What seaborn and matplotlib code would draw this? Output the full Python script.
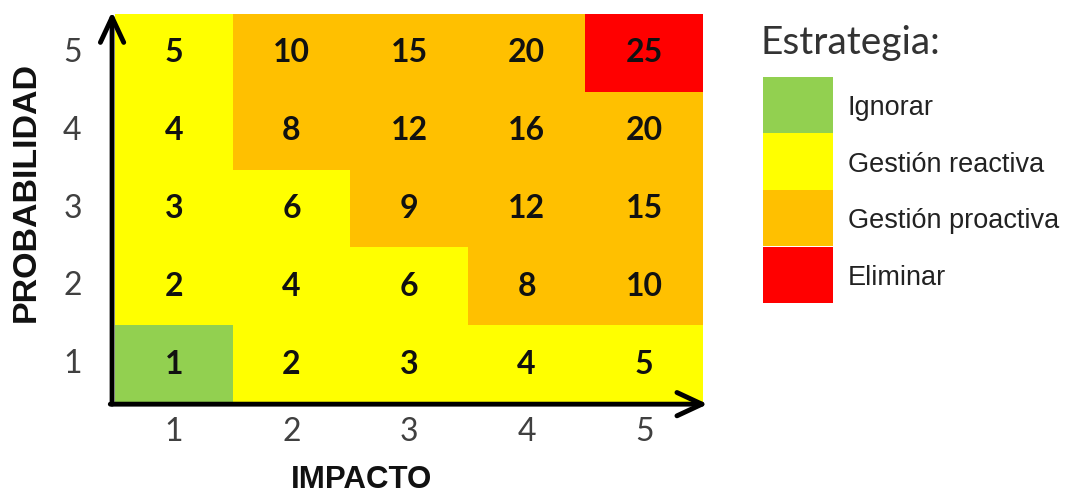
import numpy as np
import pandas as pd
import seaborn as sns
import matplotlib
matplotlib.use("Agg")
import matplotlib.pyplot as plt
from matplotlib.colors import ListedColormap, BoundaryNorm
from matplotlib.patches import Rectangle

# Risk matrix: rows = probability (5 at top), columns = impact
impacto = [1, 2, 3, 4, 5]
probabilidad = [5, 4, 3, 2, 1]

# Risk score for each cell (probability x impact)
riesgo = [
    [5, 10, 15, 20, 25],
    [4, 8, 12, 16, 20],
    [3, 6, 9, 12, 15],
    [2, 4, 6, 8, 10],
    [1, 2, 3, 4, 5],
]

# Strategy level per cell: 0 Ignorar, 1 reactiva, 2 proactiva, 3 Eliminar
nivel = [
    [1, 2, 2, 2, 3],
    [1, 2, 2, 2, 2],
    [1, 1, 2, 2, 2],
    [1, 1, 1, 2, 2],
    [0, 1, 1, 1, 1],
]

estrategias = ["Ignorar", "Gestión reactiva", "Gestión proactiva", "Eliminar"]
colores = ["#92D050", "#FFFF00", "#FFC000", "#FF0000"]

sns.set_theme(style="white")
plt.rcParams["font.family"] = ["Lato", "DejaVu Sans"]

fig = plt.figure(figsize=(10.70, 4.95), dpi=100)
ax = fig.add_axes([115 / 1070, 1 - 403 / 495, 588 / 1070, 389 / 495])

df_nivel = pd.DataFrame(nivel, index=probabilidad, columns=impacto)
df_riesgo = pd.DataFrame(riesgo, index=probabilidad, columns=impacto)

cmap = ListedColormap(colores)
norm = BoundaryNorm([-0.5, 0.5, 1.5, 2.5, 3.5], cmap.N)

sns.heatmap(
    df_nivel, ax=ax, cmap=cmap, norm=norm, cbar=False,
    annot=df_riesgo, fmt="d",
    annot_kws=dict(fontsize=23, fontweight="bold", color="#111111",
                   family=["Lato", "DejaVu Sans"]),
    linewidths=0,
)

ax.tick_params(axis="both", length=0, colors="#404040")
ax.tick_params(axis="y", pad=24)
ax.tick_params(axis="x", pad=10)
for lbl in ax.get_yticklabels():
    lbl.set_rotation(0)
    lbl.set_fontsize(23)
    lbl.set_color("#404040")
for lbl in ax.get_xticklabels():
    lbl.set_fontsize(23)
    lbl.set_color("#404040")
ax.set_xlabel("")
ax.set_ylabel("")
for s in ax.spines.values():
    s.set_visible(False)

# Axis arrows
arrow_kw = dict(arrowstyle="->,head_length=0.9,head_width=0.42", lw=3.5,
                color="black", shrinkA=0, shrinkB=0, mutation_scale=20)
ax.annotate("", xy=(-0.005, 1.006), xytext=(-0.005, -0.003),
            xycoords="axes fraction", textcoords="axes fraction",
            arrowprops=arrow_kw, annotation_clip=False)
ax.annotate("", xy=(1.008, -0.003), xytext=(-0.008, -0.003),
            xycoords="axes fraction", textcoords="axes fraction",
            arrowprops=arrow_kw, annotation_clip=False)

# Axis titles
fig.text(26 / 1070, 1 - 192 / 495, "PROBABILIDAD", rotation=90,
         ha="center", va="center", fontsize=24.5, fontweight="bold",
         family=["Liberation Sans", "DejaVu Sans"], color="#111111")
fig.text(362 / 1070, 1 - 480 / 495, "IMPACTO",
         ha="center", va="center", fontsize=22.5, fontweight="bold",
         family=["Liberation Sans", "DejaVu Sans"], color="#111111")

# Strategy legend
lax = fig.add_axes([763 / 1070, 1 - 303 / 495, 70 / 1070, 226 / 495])
lax.set_xlim(0, 1)
lax.set_ylim(0, len(estrategias))
lax.axis("off")
for i, (nombre, col) in enumerate(zip(estrategias, colores)):
    y0 = len(estrategias) - 1 - i
    lax.add_patch(Rectangle((0, y0), 1, 1, facecolor=col, edgecolor="none"))
    lax.text(1.21, y0 + 0.45, nombre, ha="left", va="center", fontsize=19.5,
             family=["Liberation Sans", "DejaVu Sans"],
             color="#222222", clip_on=False)

fig.text(760 / 1070, 1 - 43 / 495, "Estrategia:", ha="left", va="center",
         fontsize=28, color="#333333", family=["Lato", "DejaVu Sans"])

fig.savefig("out.png", dpi=100)
